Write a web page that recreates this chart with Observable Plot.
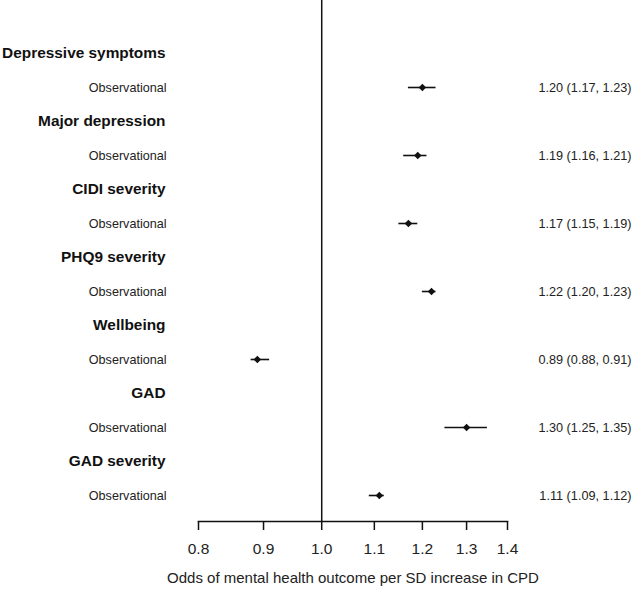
<!DOCTYPE html>
<html>
<head>
<meta charset="utf-8">
<script src="https://cdn.jsdelivr.net/npm/d3@7"></script>
<script src="https://cdn.jsdelivr.net/npm/@observablehq/plot@0.6"></script>
<style>
  html, body { margin: 0; padding: 0; background: #fff; }
  svg { display: block; }
</style>
</head>
<body>
<div id="chart"></div>
<script>
const outcomes = ["Depressive symptoms", "Major depression", "CIDI severity", "PHQ9 severity", "Wellbeing", "GAD", "GAD severity"];
const methodLabel = "Observational";
const estimates = [1.20, 1.19, 1.17, 1.22, 0.89, 1.30, 1.11];
const lower = [1.17, 1.16, 1.15, 1.20, 0.88, 1.25, 1.09];
const upper = [1.23, 1.21, 1.19, 1.23, 0.91, 1.35, 1.12];
const xTicks = [0.8, 0.9, 1.0, 1.1, 1.2, 1.3, 1.4];
const xTitle = "Odds of mental health outcome per SD increase in CPD";

const headers = outcomes.map((o, i) => ({row: "h" + i, label: o}));
const results = outcomes.map((o, i) => ({
  row: "o" + i,
  label: methodLabel,
  est: estimates[i],
  lo: lower[i],
  hi: upper[i],
  text: `${estimates[i].toFixed(2)} (${lower[i].toFixed(2)}, ${upper[i].toFixed(2)})`
}));
const rowOrder = outcomes.flatMap((o, i) => ["h" + i, "o" + i]);

const font = "'Liberation Sans', Arial, Helvetica, sans-serif";

const chart = Plot.plot({
  width: 632,
  height: 595,
  marginTop: 0,
  marginBottom: 74,
  marginLeft: 198,
  marginRight: 125,
  style: {fontFamily: font, color: "#222", background: "#fff", overflow: "visible"},
  x: {type: "log", domain: [0.8, 1.4]},
  y: {type: "point", domain: rowOrder, range: [52, 495], padding: 0, axis: null},
  marks: [
    Plot.ruleX([1], {stroke: "#111", strokeWidth: 1.5}),
    Plot.frame({anchor: "bottom", stroke: "#111", strokeWidth: 1.5}),
    Plot.axisX({
      ticks: xTicks,
      tickFormat: () => "",
      tickSize: 9,
      stroke: "#111",
      strokeWidth: 1.5,
      label: null
    }),
    Plot.text(xTicks, {x: d => d, text: d => d.toFixed(1), frameAnchor: "bottom", dy: 32, fontSize: 15.5, fill: "#222"}),
    Plot.text([xTitle], {frameAnchor: "bottom", dy: 61, fontSize: 15, fill: "#222"}),
    Plot.text(headers, {y: "row", text: "label", frameAnchor: "left", dx: -33, textAnchor: "end", fontWeight: "bold", fontSize: 15.4, fill: "#111"}),
    Plot.text(results, {y: "row", text: "label", frameAnchor: "left", dx: -32, textAnchor: "end", fontSize: 12.6, fill: "#222"}),
    Plot.text(results, {y: "row", text: "text", frameAnchor: "right", dx: 124, textAnchor: "end", fontSize: 12.7, fill: "#222"}),
    Plot.ruleY(results, {y: "row", x1: "lo", x2: "hi", stroke: "#111", strokeWidth: 1.6}),
    Plot.dot(results, {y: "row", x: "est", symbol: "diamond2", r: 3.4, fill: "#111", stroke: "none"})
  ]
});
document.getElementById("chart").appendChild(chart);
</script>
</body>
</html>
